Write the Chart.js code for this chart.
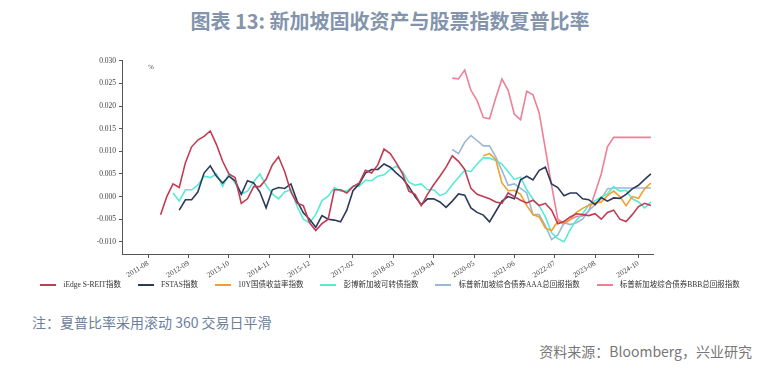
<!DOCTYPE html>
<html>
<head>
<meta charset="utf-8">
<script src="https://cdn.jsdelivr.net/npm/chart.js@4.4.0/dist/chart.umd.min.js"></script>
<style>
  body { margin: 0; width: 780px; height: 368px; background: #fff; position: relative; overflow: hidden; font-family: "Noto Sans CJK SC", sans-serif; }
  #title { position: absolute; top: 6px; left: 0; width: 780px; text-align: center; font-size: 20px; font-weight: bold; color: #8394ac; }
  #chart-wrap { position: absolute; left: 0; top: 50px; width: 780px; height: 250px; }
  #legend { position: absolute; left: 0; top: 279px; width: 780px; display: flex; justify-content: center; gap: 17px; font-family: "Liberation Serif", "Noto Sans CJK SC", serif; font-size: 7.5px; color: #333; line-height: 12px; }
  #legend .item { display: flex; align-items: center; white-space: nowrap; }
  #legend .swatch { width: 16px; height: 2px; margin-right: 7px; }
  #note { position: absolute; left: 32px; top: 312px; font-size: 14px; color: #6d819c; }
  #source { position: absolute; right: 28px; top: 341px; font-size: 14px; color: #777; }
</style>
</head>
<body>
<div id="title">图表 13: 新加坡固收资产与股票指数夏普比率</div>
<div id="chart-wrap"><canvas id="sharpe-chart" width="780" height="250"></canvas></div>
<div id="legend"></div>
<div id="note">注：夏普比率采用滚动 360 交易日平滑</div>
<div id="source">资料来源：Bloomberg，兴业研究</div>
<script>
// two-month grid
const dates = [
  "2011-10", "2011-12",
  "2012-02", "2012-04", "2012-06", "2012-08", "2012-10", "2012-12",
  "2013-02", "2013-04", "2013-06", "2013-08", "2013-10", "2013-12",
  "2014-02", "2014-04", "2014-06", "2014-08", "2014-10", "2014-12",
  "2015-02", "2015-04", "2015-06", "2015-08", "2015-10", "2015-12",
  "2016-02", "2016-04", "2016-06", "2016-08", "2016-10", "2016-12",
  "2017-02", "2017-04", "2017-06", "2017-08", "2017-10", "2017-12",
  "2018-02", "2018-04", "2018-06", "2018-08", "2018-10", "2018-12",
  "2019-02", "2019-04", "2019-06", "2019-08", "2019-10", "2019-12",
  "2020-02", "2020-04", "2020-06", "2020-08", "2020-10", "2020-12",
  "2021-02", "2021-04", "2021-06", "2021-08", "2021-10", "2021-12",
  "2022-02", "2022-04", "2022-06", "2022-08", "2022-10", "2022-12",
  "2023-02", "2023-04", "2023-06", "2023-08", "2023-10", "2023-12",
  "2024-02", "2024-04", "2024-06", "2024-08", "2024-10", "2024-12",
  "2025-02",
];

const sreit = [
  null, -0.004,
  0.0, 0.0028, 0.002, 0.0075, 0.011, 0.0125,
  0.0133, 0.0145, 0.0115, 0.0078, 0.005, 0.0042,
  -0.0015, -0.0005, 0.0022, 0.0022, 0.0038, 0.007,
  0.0088, 0.0055, 0.001, -0.0015, -0.002, -0.0058,
  -0.0075, -0.006, -0.005, 0.0015, 0.0015, 0.0008,
  0.0022, 0.003, 0.0058, 0.0052, 0.007, 0.0105,
  0.0095, 0.0074, 0.005, 0.0012, 0.0005, -0.002,
  0.0005, 0.0026, 0.0045, 0.0065, 0.009, 0.0078,
  0.006, 0.0018, 0.0005, 0.0, -0.0005, -0.0012,
  -0.0015, 0.0008, 0.0, -0.0008, -0.0014, -0.0008,
  -0.002, -0.0015, -0.003, -0.006, -0.0055, -0.0045,
  -0.0038, -0.004, -0.0042, -0.0038, -0.005, -0.0035,
  -0.003, -0.005, -0.0055, -0.004, -0.0022, -0.0015,
  -0.002,
];

const fstas = [
  null, null,
  null, null, -0.003, -0.0007, -0.0007, 0.001,
  0.0052, 0.0068, 0.0045, 0.003, 0.0045, 0.0035,
  0.0005, 0.0035, 0.003, 0.001, -0.0025, 0.0015,
  0.002, 0.0018, 0.0028, -0.001, -0.0036, -0.005,
  -0.0068, -0.0042, -0.005, -0.0052, -0.0056, -0.003,
  0.0013, 0.0028, 0.0052, 0.006, 0.006, 0.0072,
  0.0065, 0.0052, 0.004, 0.0022, 0.0, -0.0018,
  -0.0005, -0.0005, -0.0012, -0.0024, -0.001, 0.0006,
  0.0003, -0.0025, -0.0035, -0.0041, -0.0056, -0.0033,
  -0.001, 0.0, -0.0005, 0.0037, 0.0045, 0.0037,
  0.0058, 0.0065, 0.0028, 0.002, 0.0002, 0.0008,
  0.0008, -0.0005, -0.0007, -0.0018, -0.0002, -0.001,
  -0.0003, -0.0004, 0.0005, 0.0017, 0.0025, 0.0038,
  0.005,
];

const govBond10y = [
  null, null,
  null, null, null, null, null, null,
  null, null, null, null, null, null,
  null, null, null, null, null, null,
  null, null, null, null, null, null,
  null, null, null, null, null, null,
  null, null, null, null, null, null,
  null, null, null, null, null, null,
  null, null, null, null, null, null,
  null, null, null, 0.009, 0.0095, 0.0082,
  0.003, 0.0013, 0.0014, 0.0005, -0.002, -0.004,
  -0.0045, -0.007, -0.0075, -0.0055, -0.006, -0.005,
  -0.0035, -0.0026, -0.0019, -0.0014, -0.0012, 0.0002,
  0.0012, 0.0, -0.002, 0.0, -0.0004, 0.0017,
  0.003,
];

const convertible = [
  null, null,
  null, 0.0008, -0.001, 0.0015, 0.0015, 0.0025,
  0.0045, 0.0042, 0.005, 0.0023, 0.005, 0.003,
  0.0006, 0.0012, 0.0033, 0.005, 0.0025, 0.0006,
  -0.0005, 0.001, 0.0015, -0.0022, -0.005, -0.0058,
  -0.004, -0.0009, 0.0001, 0.002, 0.0012, 0.0012,
  0.0023, 0.0023, 0.0036, 0.0035, 0.0045, 0.0048,
  0.006, 0.0067, 0.0055, 0.0032, 0.0025, 0.0028,
  0.0015, 0.0015, 0.0002, 0.0008, 0.0026, 0.0042,
  0.0058, 0.0055, 0.0072, 0.0086, 0.0085, 0.008,
  0.0072, 0.0055, 0.0038, 0.0043, 0.0015, -0.0006,
  -0.002, -0.0045, -0.008, -0.0093, -0.01, -0.0073,
  -0.0052, -0.0038, -0.0018, -0.0009, -0.0001, 0.0006,
  0.0022, 0.0012, 0.0014, -0.0005, -0.0012, -0.0025,
  -0.0012,
];

const bondAAA = [
  null, null,
  null, null, null, null, null, null,
  null, null, null, null, null, null,
  null, null, null, null, null, null,
  null, null, null, null, null, null,
  null, null, null, null, null, null,
  null, null, null, null, null, null,
  null, null, null, null, null, null,
  null, null, null, null, 0.0104, 0.0095,
  0.012, 0.0135, 0.0124, 0.0112, 0.0112, 0.0088,
  0.0058, 0.0025, 0.0028, 0.0018, 0.0008, -0.004,
  -0.004, -0.0065, -0.0095, -0.0085, -0.0058, -0.0062,
  -0.0058, -0.005, -0.0031, -0.0018, -0.0005, 0.0017,
  0.0019, 0.0019, 0.0019, 0.0019, 0.0019, 0.0019,
  0.0019,
];

const bondBBB = [
  null, null,
  null, null, null, null, null, null,
  null, null, null, null, null, null,
  null, null, null, null, null, null,
  null, null, null, null, null, null,
  null, null, null, null, null, null,
  null, null, null, null, null, null,
  null, null, null, null, null, null,
  null, null, null, null, 0.0262, 0.026,
  0.028, 0.0235, 0.0212, 0.0175, 0.0172, 0.0218,
  0.026, 0.0235, 0.0182, 0.017, 0.0233, 0.0225,
  0.0185, 0.0105, 0.0025, -0.005, -0.006, -0.0051,
  -0.0044, -0.0043, -0.0032, 0.0008, 0.005, 0.011,
  0.0131, 0.0131, 0.0131, 0.0131, 0.0131, 0.0131,
  0.0131,
];

const seriesNames = [
  "iEdge S-REIT指数",
  "FSTAS指数",
  "10Y国债收益率指数",
  "彭博新加坡可转债指数",
  "标普新加坡综合债券AAA总回报指数",
  "标普新加坡综合债券BBB总回报指数",
];
const seriesValues = [sreit, fstas, govBond10y, convertible, bondAAA, bondBBB];
const seriesColors = ["#c13c52", "#2e3a5c", "#f0a12c", "#56ebd3", "#9ab8d6", "#ee7f97"];

const xTickLabels = [
  "2011-08", "2012-09", "2013-10", "2014-11", "2015-12", "2017-02", "2018-03",
  "2019-04", "2020-05", "2021-06", "2022-07", "2023-08", "2024-10",
];
const yTickLabels = ["-0.010", "-0.005", "0.000", "0.005", "0.010", "0.015", "0.020", "0.025", "0.030"];

function toYear(s) {
  const [y, m] = s.split("-").map(Number);
  return y + (m - 1) / 12;
}

const tickFont = { family: "'Liberation Serif', serif", size: 7.5 };

const percentLabel = {
  id: "percentLabel",
  afterDraw(chart) {
    const { ctx, chartArea } = chart;
    ctx.save();
    ctx.font = "7px 'Liberation Serif'";
    ctx.fillStyle = "#444";
    ctx.fillText("%", chartArea.left + 26, chartArea.top + 9);
    ctx.restore();
  },
};

const chartEl = document.getElementById("sharpe-chart");
new Chart(chartEl, {
  type: "line",
  data: {
    datasets: seriesNames.map((name, k) => ({
      label: name,
      data: dates
        .map((d, i) => ({ x: toYear(d), y: seriesValues[k][i] }))
        .filter((p) => p.y !== null && p.y !== undefined),
      borderColor: seriesColors[k],
      backgroundColor: seriesColors[k],
      borderWidth: 1.6,
      pointRadius: 0,
      tension: 0,
    })),
  },
  options: {
    responsive: false,
    animation: false,
    layout: { padding: { left: 0, right: 127, top: 10, bottom: 20 } },
    scales: {
      x: {
        type: "linear",
        min: 2010.88,
        max: 2025.14,
        afterBuildTicks: (scale) => {
          scale.ticks = xTickLabels.map((l) => ({ value: toYear(l), label: l }));
        },
        afterFit: (scale) => { scale.height = 26; },
        ticks: {
          autoSkip: false,
          minRotation: 32,
          maxRotation: 32,
          padding: 1,
          font: tickFont,
          color: "#444",
          callback: (v, i) => xTickLabels[i],
        },
        grid: { drawOnChartArea: false, drawTicks: true, tickLength: 4, color: "#555" },
        border: { color: "#555" },
      },
      y: {
        min: -0.0127,
        max: 0.0302,
        afterBuildTicks: (scale) => {
          scale.ticks = yTickLabels.map((l) => ({ value: parseFloat(l) }));
        },
        afterFit: (scale) => { scale.width = 122; },
        ticks: {
          padding: 3,
          font: tickFont,
          color: "#444",
          callback: (v, i) => yTickLabels[i],
        },
        grid: { drawOnChartArea: false, drawTicks: true, tickLength: 3, color: "#555" },
        border: { color: "#555" },
      },
    },
    plugins: {
      legend: { display: false },
      tooltip: { enabled: false },
    },
  },
  plugins: [percentLabel],
});

const legendEl = document.getElementById("legend");
seriesNames.forEach((name, k) => {
  const item = document.createElement("div");
  item.className = "item";
  const swatch = document.createElement("span");
  swatch.className = "swatch";
  swatch.style.background = seriesColors[k];
  const text = document.createElement("span");
  text.textContent = name;
  item.appendChild(swatch);
  item.appendChild(text);
  legendEl.appendChild(item);
});
</script>
</body>
</html>
